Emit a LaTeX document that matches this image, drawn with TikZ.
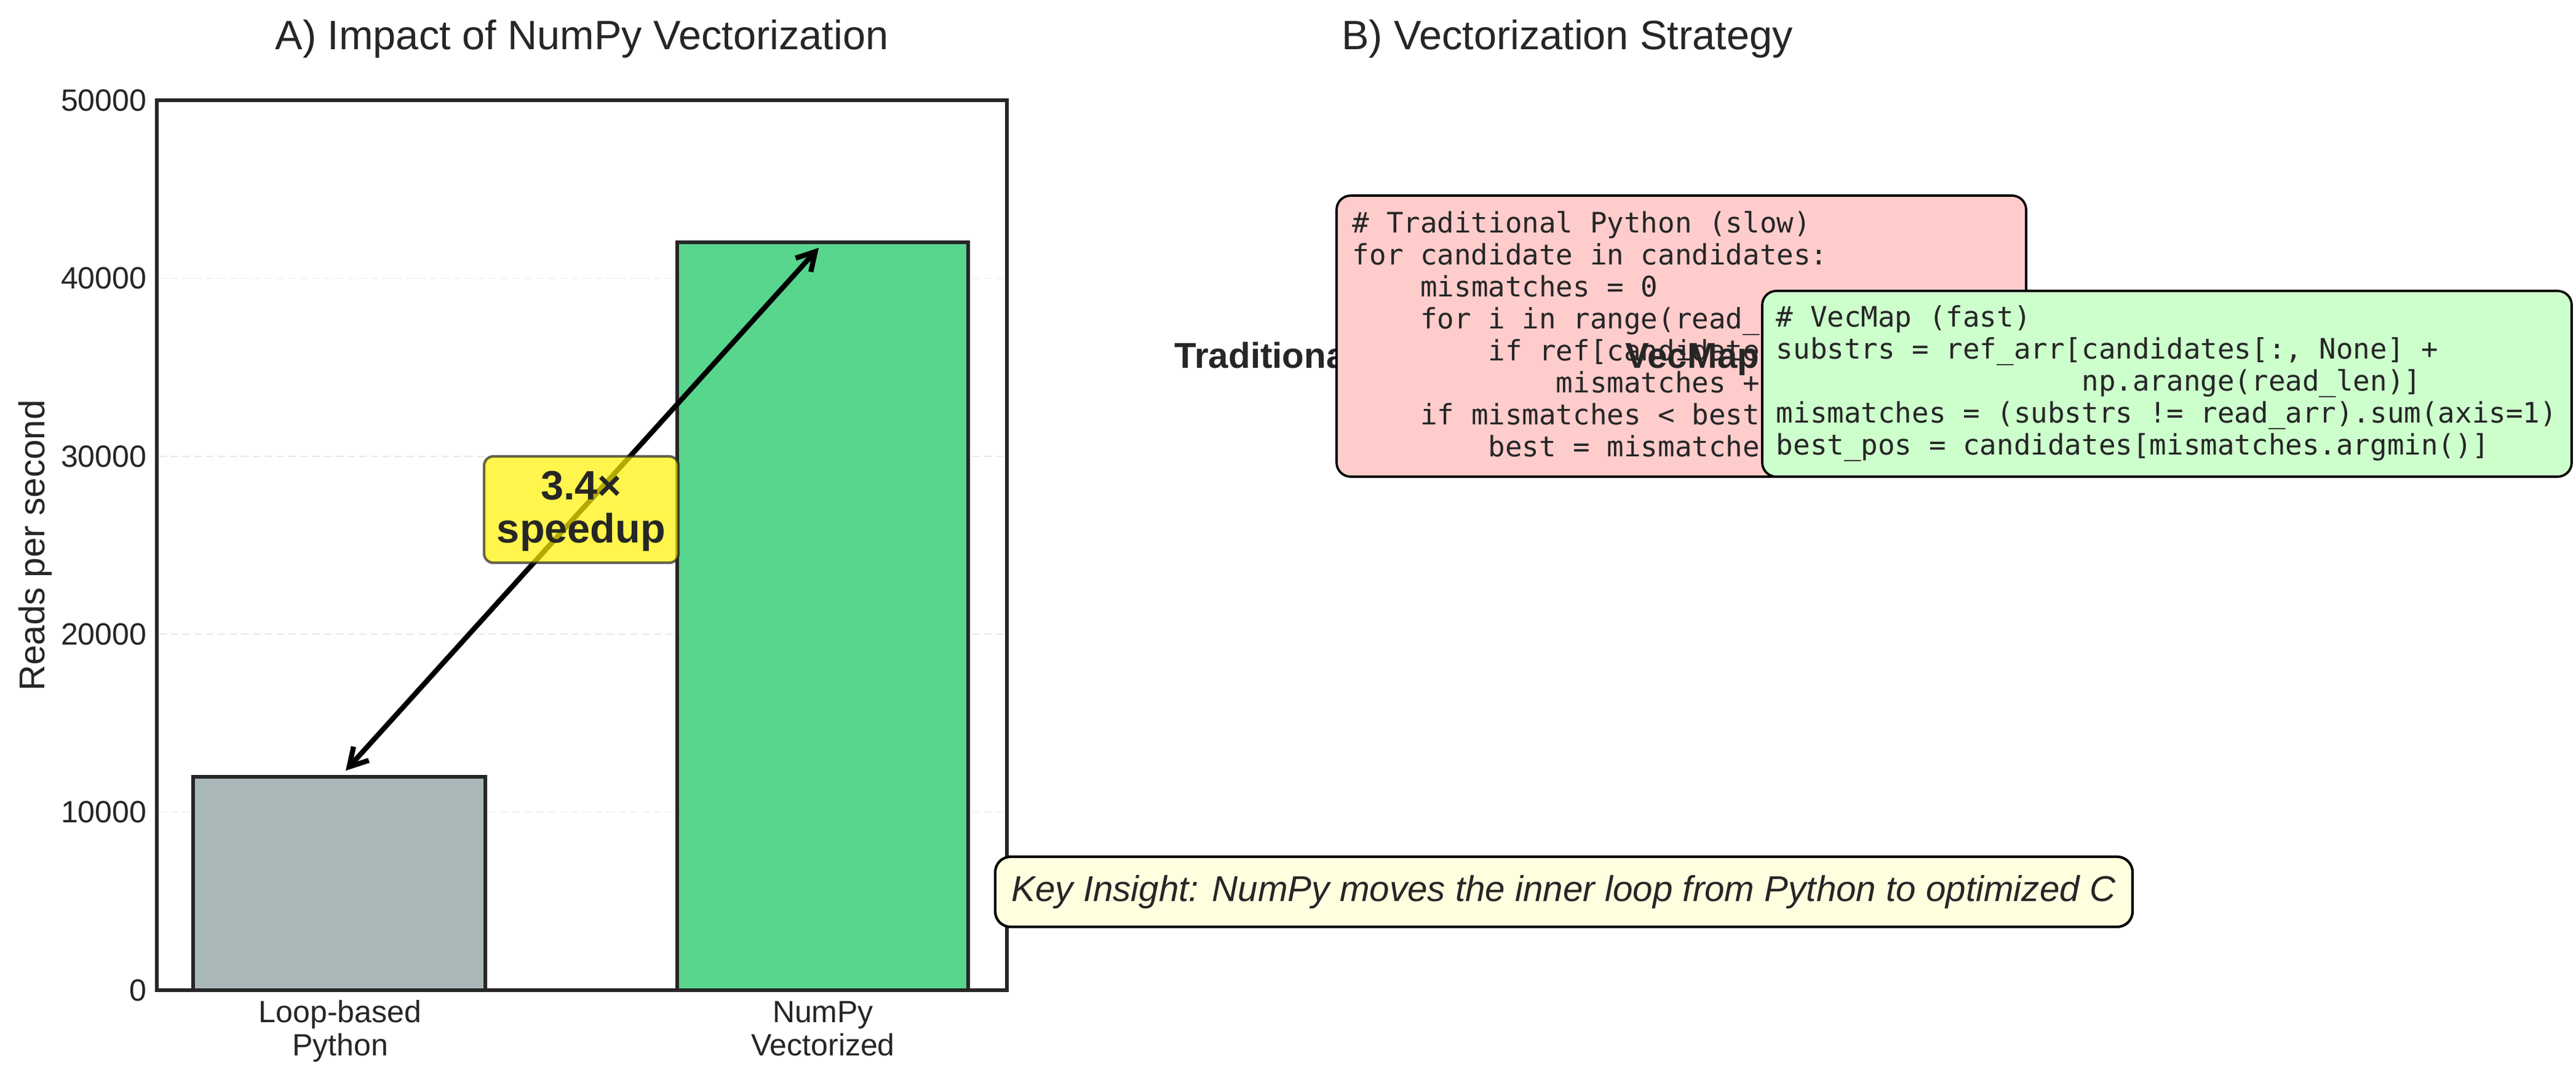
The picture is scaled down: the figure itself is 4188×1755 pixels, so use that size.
\documentclass[tikz,border=0pt]{standalone}
\usepackage{fontspec}
\setmainfont{Liberation Sans}
\newfontfamily\codefont{DejaVu Sans Mono}
\usetikzlibrary{arrows.meta,fit}
\definecolor{txt}{HTML}{262626}
\definecolor{barA}{HTML}{AAB7B8}
\definecolor{barB}{HTML}{58D68D}
\definecolor{redfill}{HTML}{FFCCCC}
\definecolor{greenfill}{HTML}{CCFFCC}
\definecolor{keyfill}{HTML}{FFFFE0}
\definecolor{gridc}{HTML}{E8E8E8}
\newcommand\twolinec[2]{\vtop{\hbox to 0pt{\hss#1\hss}\hbox to 0pt{\hss#2\hss}}}
\tikzset{
  gridline/.style={draw=gridc, line width=0.4pt, dash pattern=on 3pt off 1.6pt},
  barbox/.style={draw=txt, line width=1.5pt, inner sep=0pt},
  axesframe/.style={draw=txt, line width=1.6pt, inner sep=0pt},
  ticklab/.style={font=\fontsize{12}{13}\selectfont, text=txt, inner sep=0pt},
  titlelab/.style={font=\fontsize{16}{19}\selectfont, text=txt, inner sep=0pt},
  boldlab/.style={font=\bfseries\fontsize{14}{17}\selectfont, text=txt, inner sep=0pt},
  codebox/.style={draw=black, line width=0.9pt, rounded corners=5.5pt, inner sep=0pt},
  codetext/.style={font=\codefont\fontsize{11}{12.5}\selectfont, text=txt, inner sep=0pt},
  speedarrow/.style={line width=2pt, draw=black,
    {Straight Barb[length=7pt,width=8pt]}-{Straight Barb[length=7pt,width=8pt]}},
  speedbox/.style={draw=txt, draw opacity=0.7, fill=yellow, fill opacity=0.7,
    line width=1pt, rounded corners=3.6pt, inner sep=0pt},
  keybox/.style={draw=black, fill=keyfill, line width=1pt, rounded corners=6pt, inner sep=0pt}
}
\begin{document}
\begin{tikzpicture}[x=0.24pt,y=-0.24pt]
\useasboundingbox[fill=white] (0,0) rectangle (4188,1755);

% grid lines
\foreach \v in {1,2,3,4} {
  \draw[gridline] (258,{1610-289.4*\v}) -- (1634,{1610-289.4*\v});
}

% bars
\node[barbox, fill=barA, fit={(314,1263) (789,1610)}] (bar1) {};
\node[barbox, fill=barB, fit={(1101,394) (1574,1610)}] (bar2) {};

% axes frame
\node[axesframe, fit={(255,163) (1637,1610)}] (axA) {};

% tick labels
\foreach \v/\t in {0/0,1/10000,2/20000,3/30000,4/40000,5/50000} {
  \node[ticklab, anchor=east] (tick\v) at (239,{1610-289.4*\v}) {\t};
}
\node[ticklab, anchor=base] (xlab1) at (553,1662) {\twolinec{Loop-based}{Python}};
\node[ticklab, anchor=base] (xlab2) at (1338,1662) {\twolinec{NumPy}{Vectorized}};

% axis label
\node[font=\fontsize{14}{17}\selectfont, text=txt, inner sep=0pt, rotate=90, anchor=base] (ylab) at (72,887) {Reads per second};

% titles
\node[titlelab, anchor=base] (titleA) at (946,80) {A) Impact of NumPy Vectorization};
\node[titlelab, anchor=base] (titleB) at (2548,80) {B) Vectorization Strategy};

% speedup arrow and label
\coordinate (lowtip) at (562,1253);
\coordinate (hightip) at (1331,403);
\draw[speedarrow] (lowtip) -- (hightip);
\node[speedbox, fit={(787,742) (1103,915)}] (spbox) {};
\node[font=\bfseries\fontsize{16}{17}\selectfont, text=txt, inner sep=0pt, anchor=base] (sptext) at (945,812) {\twolinec{3.4×}{speedup}};

% panel B
\node[boldlab, anchor=base west] (tradlab) at (1909,598) {Traditional};
\node[codebox, fill=redfill, fit={(2173,318) (3294,775)}] (redbox) {};
\node[codetext, anchor=base west] (redcode) at (2198,378) {\vtop{%
\hbox{\# Traditional Python (slow)}%
\hbox{for candidate in candidates:}%
\hbox{~~~~mismatches = 0}%
\hbox{~~~~for i in range(read\_len):}%
\hbox{~~~~~~~~if ref[candidate+i] != read[i]:}%
\hbox{~~~~~~~~~~~~mismatches += 1}%
\hbox{~~~~if mismatches < best:}%
\hbox{~~~~~~~~best = mismatches}}};
\node[boldlab, anchor=base west] (veclab) at (2642,598) {VecMap};
\node[codebox, fill=greenfill, fit={(2865,473) (4181,775)}] (greenbox) {};
\node[codetext, anchor=base west] (greencode) at (2887,531) {\vtop{%
\hbox{\# VecMap (fast)}%
\hbox{substrs = ref\_arr[candidates[:, None] +}%
\hbox{~~~~~~~~~~~~~~~~~~np.arange(read\_len)]}%
\hbox{mismatches = (substrs != read\_arr).sum(axis=1)}%
\hbox{best\_pos = candidates[mismatches.argmin()]}}};

% key insight
\node[keybox, fit={(1618,1393) (3467,1507)}] (keybox) {};
\node[font=\itshape\fontsize{14}{17}\selectfont, text=txt, inner sep=0pt, anchor=base] (keytext) at (2542,1465) {Key Insight: NumPy moves the inner loop from Python to optimized C};
\end{tikzpicture}
\end{document}
